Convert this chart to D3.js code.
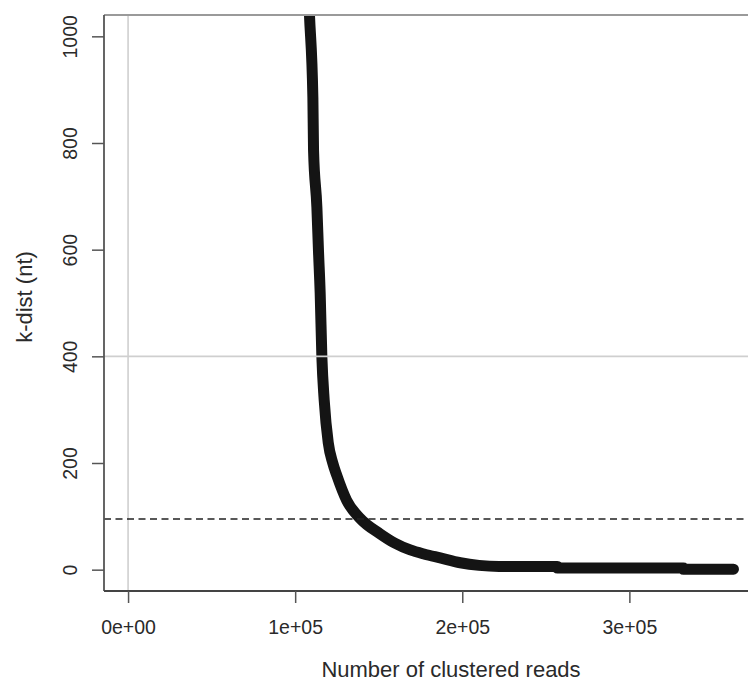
<!DOCTYPE html>
<html>
<head>
<meta charset="utf-8">
<script src="https://cdn.jsdelivr.net/npm/d3@7"></script>
<style>
  html, body { margin: 0; padding: 0; background: #fff; }
  svg { display: block; font-family: "Liberation Sans", Arial, sans-serif; }
</style>
</head>
<body>
<svg id="chart" width="748" height="682"></svg>
<script>
// ---- data ----
const readIndex = [104000, 108560, 110600, 111000, 113000, 113950, 114970, 115990, 117370, 119800,
                   122500, 125000, 130800, 138920, 150900, 159500, 168860, 177500, 186830, 198800,
                   210000, 222000, 256900, 256950, 332300, 332350, 362300];
const kDist     = [1400, 1040, 885, 786, 679, 598, 518, 398, 318, 238,
                   200, 176, 130, 96, 67, 50, 37, 29, 22, 13,
                   8, 6, 6, 3, 3, 1, 1];
const xTicks = [0, 100000, 200000, 300000];
const xTickLabels = ["0e+00", "1e+05", "2e+05", "3e+05"];
const yTicks = [0, 200, 400, 600, 800, 1000];
const hLineGray = 400;
const vLineGray = 0;
const hLineDashed = 95;
const xTitle = "Number of clustered reads";
const yTitle = "k-dist (nt)";

// ---- layout ----
const svg = d3.select("#chart");
const pL = 104, pR = 753.7, pT = 15, pB = 591;

const x = d3.scaleLinear().domain([-14400, 374400]).range([pL, pR]);
const y = d3.scaleLinear().domain([-40, 1040]).range([pB, pT]);

svg.append("defs").append("clipPath").attr("id", "plotclip")
  .append("rect").attr("x", pL).attr("y", pT)
  .attr("width", pR - pL).attr("height", pB - pT);

const plot = svg.append("g").attr("clip-path", "url(#plotclip)");

// curve
const line = d3.line()
  .x((d, i) => x(readIndex[i]))
  .y((d, i) => y(kDist[i]))
  .curve(d3.curveMonotoneX);
plot.append("path")
  .datum(kDist)
  .attr("d", line)
  .attr("fill", "none")
  .attr("stroke", "#141414")
  .attr("stroke-width", 11)
  .attr("stroke-linejoin", "round")
  .attr("stroke-linecap", "round");

// reference lines
plot.append("line")
  .attr("x1", x(vLineGray)).attr("x2", x(vLineGray))
  .attr("y1", pT).attr("y2", pB)
  .attr("stroke", "#c4c4c4").attr("stroke-width", 1.3);
plot.append("line")
  .attr("x1", pL).attr("x2", pR)
  .attr("y1", y(hLineGray)).attr("y2", y(hLineGray))
  .attr("stroke", "#cfcfcf").attr("stroke-width", 1.8);
plot.append("line")
  .attr("x1", pL).attr("x2", pR)
  .attr("y1", y(hLineDashed)).attr("y2", y(hLineDashed))
  .attr("stroke", "#222").attr("stroke-width", 1.5)
  .attr("stroke-dasharray", "7,4.5");

// box
svg.append("line").attr("x1", pL).attr("x2", pR).attr("y1", pT).attr("y2", pT)
  .attr("stroke", "#9a9a9a").attr("stroke-width", 2);
svg.append("line").attr("x1", pL).attr("x2", pL).attr("y1", pT).attr("y2", pB)
  .attr("stroke", "#555").attr("stroke-width", 1.8);
svg.append("line").attr("x1", pL).attr("x2", pR).attr("y1", pB).attr("y2", pB)
  .attr("stroke", "#444").attr("stroke-width", 1.8);

// axes
const yAxis = svg.append("g")
  .attr("transform", `translate(${pL},0)`)
  .call(d3.axisLeft(y).tickValues(yTicks).tickSize(12).tickFormat(d3.format("d")));
yAxis.select(".domain").remove();
yAxis.selectAll(".tick line").attr("stroke", "#555").attr("stroke-width", 1.5);
yAxis.selectAll(".tick text")
  .attr("transform", "rotate(-90)")
  .attr("x", 0).attr("y", -27).attr("dy", null)
  .attr("text-anchor", "middle")
  .attr("fill", "#2a2a2a")
  .style("font-size", "19.5px");

const xAxis = svg.append("g")
  .attr("transform", `translate(0,${pB})`)
  .call(d3.axisBottom(x).tickValues(xTicks).tickSize(12)
        .tickFormat((d, i) => xTickLabels[i]));
xAxis.select(".domain").remove();
xAxis.selectAll(".tick line").attr("stroke", "#555").attr("stroke-width", 1.5);
xAxis.selectAll(".tick text")
  .attr("y", 43).attr("dy", null)
  .attr("fill", "#2a2a2a")
  .style("font-size", "19.5px");

// titles
svg.append("text")
  .attr("x", 451).attr("y", 677)
  .attr("text-anchor", "middle")
  .attr("fill", "#2a2a2a")
  .style("font-size", "22px")
  .text(xTitle);
svg.append("text")
  .attr("transform", "translate(32,297) rotate(-90)")
  .attr("text-anchor", "middle")
  .attr("fill", "#2a2a2a")
  .style("font-size", "22px")
  .text(yTitle);
</script>
</body>
</html>
